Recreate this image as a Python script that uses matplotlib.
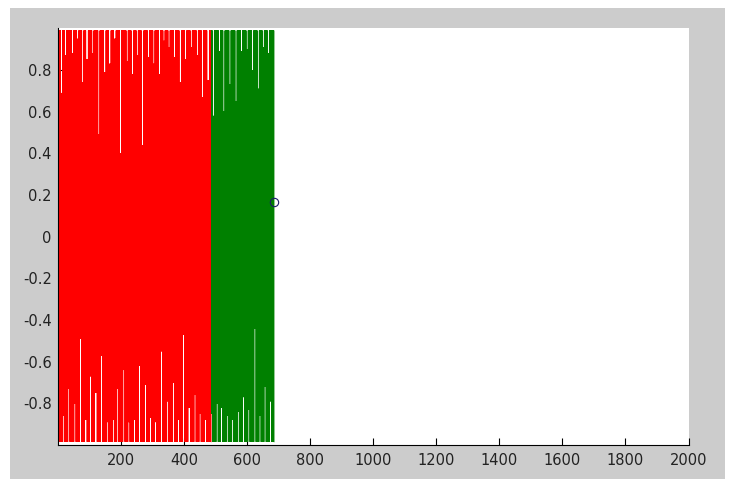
import numpy as np
import matplotlib
matplotlib.use("Agg")
import matplotlib.pyplot as plt
from matplotlib.patches import Rectangle

# ---- data ----
# red segment spans x = 1 .. 487, green segment x = 487 .. 686
red_range = [1, 487]
green_range = [487, 686]
peak_level = 0.99      # typical height of the oscillation peaks
trough_level = -0.985  # typical depth of the oscillation troughs

# positions / values where the upper envelope dips (white slivers at the top)
red_top_x = [12, 25, 47, 63, 80, 93, 112, 131, 149, 165, 181, 199, 220, 237, 252,
             269, 287, 305, 322, 337, 353, 371, 389, 406, 424, 442, 459, 477]
red_top_y = [0.69, 0.87, 0.88, 0.95, 0.74, 0.85, 0.88, 0.49, 0.79, 0.83, 0.95, 0.40,
             0.84, 0.78, 0.87, 0.44, 0.86, 0.83, 0.78, 0.94, 0.91, 0.86, 0.74, 0.85,
             0.91, 0.87, 0.67, 0.75]
green_top_x = [493, 512, 527, 546, 565, 583, 601, 618, 636, 652, 668]
green_top_y = [0.58, 0.89, 0.60, 0.73, 0.65, 0.89, 0.90, 0.80, 0.71, 0.91, 0.88]

# positions / values where the lower envelope rises (white slivers at the bottom)
red_bot_x = [19, 35, 54, 72, 89, 104, 121, 139, 157, 176, 191, 210, 226, 244, 260,
             278, 294, 311, 329, 347, 366, 382, 398, 417, 435, 451, 469]
red_bot_y = [-0.86, -0.73, -0.80, -0.49, -0.88, -0.67, -0.75, -0.57, -0.89, -0.88,
             -0.73, -0.64, -0.89, -0.88, -0.62, -0.71, -0.87, -0.89, -0.55, -0.79,
             -0.70, -0.88, -0.47, -0.82, -0.76, -0.85, -0.88]
green_bot_x = [488, 506, 520, 537, 555, 574, 588, 606, 625, 641, 657, 675]
green_bot_y = [-0.85, -0.80, -0.82, -0.86, -0.88, -0.84, -0.77, -0.83, -0.44, -0.86,
               -0.72, -0.79]

marker_x = [686]
marker_y = [0.167]

x_ticks = [200, 400, 600, 800, 1000, 1200, 1400, 1600, 1800, 2000]
y_ticks = [-0.8, -0.6, -0.4, -0.2, 0, 0.2, 0.4, 0.6, 0.8]
y_ticklabels = ["-0.8", "-0.6", "-0.4", "-0.2", "0", "0.2", "0.4", "0.6", "0.8"]


def build_series(xr, top_x, top_y, bot_x, bot_y, step=0.8, half_width=2.5):
    x = np.arange(xr[0], xr[1] + step / 2, step)
    idx = np.arange(len(x))
    up = idx % 2 == 0
    y = np.where(up, peak_level, trough_level).astype(float)
    for xd, v in zip(top_x, top_y):
        y[up & (np.abs(x - xd) <= half_width)] = v
    for xd, v in zip(bot_x, bot_y):
        y[(~up) & (np.abs(x - xd) <= half_width)] = v
    return x, y


rx, ry = build_series(red_range, red_top_x, red_top_y, red_bot_x, red_bot_y)
gx, gy = build_series(green_range, green_top_x, green_top_y, green_bot_x, green_bot_y)

W, H = 730, 479
fig = plt.figure(figsize=(W / 100, H / 100), dpi=100, facecolor="white")
bg = fig.add_axes([0, 0, 1, 1], zorder=-10)
bg.set_xlim(0, W)
bg.set_ylim(0, H)
bg.axis("off")
bg.add_patch(Rectangle((10, 0), 715, 471, facecolor="#cccccc", edgecolor="none"))

ax = fig.add_axes([58 / W, (H - 445) / H, (688.5 - 58) / W, (445 - 28.4) / H], zorder=1)
ax.set_facecolor("white")
ax.plot(rx, ry, color="#ff0000", lw=0.5, solid_joinstyle="miter", antialiased=True)
ax.plot(gx, gy, color="#008000", lw=0.5, solid_joinstyle="miter", antialiased=True)
ax.plot(marker_x, marker_y, "o", mfc="none", mec="#1c1c6a", ms=6, mew=0.8, zorder=5)

ax.set_xlim(1, 2000)
ax.set_ylim(-1, 1)
ax.set_xticks(x_ticks)
ax.set_xticklabels([str(t) for t in x_ticks])
ax.set_yticks(y_ticks)
ax.set_yticklabels(y_ticklabels)
for s in ("top", "right"):
    ax.spines[s].set_visible(False)
for s in ("left", "bottom"):
    ax.spines[s].set_color("black")
    ax.spines[s].set_linewidth(0.8)
ax.tick_params(axis="both", direction="in", length=5, width=0.8, colors="black",
               labelcolor="#222222", labelsize=10.5)
ax.tick_params(axis="x", pad=6)
ax.tick_params(axis="y", pad=4.5)

fig.savefig("out.png", dpi=100, facecolor="white")
